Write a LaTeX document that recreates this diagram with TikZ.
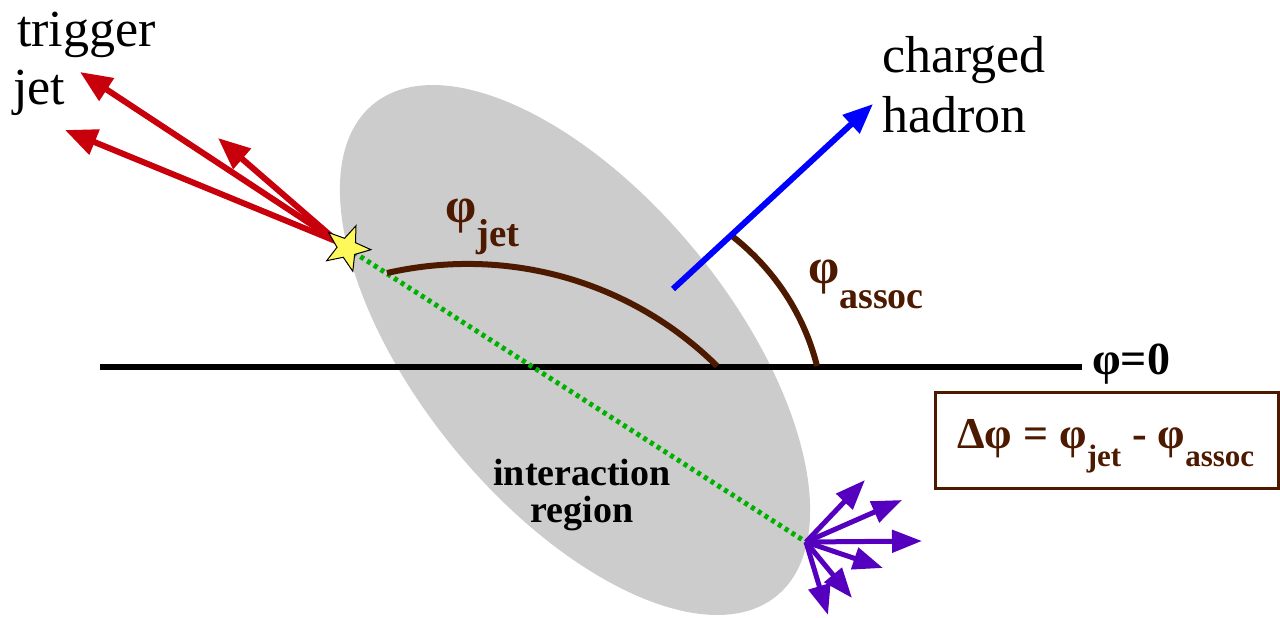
\documentclass[tikz,border=0pt]{standalone}
\usepackage{fontspec}
\newfontfamily\tnr{Liberation Serif}
\usetikzlibrary{arrows.meta,shapes.geometric}
\definecolor{jetred}{RGB}{200,0,12}
\definecolor{phibrown}{RGB}{77,26,0}
\definecolor{regiongray}{RGB}{204,204,204}
\definecolor{dotgreen}{RGB}{0,178,0}
\definecolor{hadblue}{RGB}{0,0,255}
\definecolor{fragpurple}{RGB}{85,0,190}
\definecolor{staryellow}{RGB}{255,248,90}
\begin{document}
\begin{tikzpicture}[x=1pt,y=-1pt,
  jetarrow/.style={draw=jetred, line width=6pt, -{Triangle[length=32pt,width=26pt]}},
  fragarrow/.style={draw=fragpurple, line width=5pt, -{Triangle[length=30pt,width=22pt]}},
  hadarrow/.style={draw=hadblue, line width=6pt, -{Triangle[length=30pt,width=24pt]}},
  anglearc/.style={draw=phibrown, line width=6pt},
  bigtext/.style={font=\tnr\fontsize{52}{56}\selectfont, inner sep=0pt, anchor=base west},
  regiontext/.style={font=\tnr\bfseries\fontsize{38}{40}\selectfont, inner sep=0pt, anchor=base},
  philabel/.style={text=phibrown, inner sep=0pt, anchor=base west},
]
\useasboundingbox (0,0) rectangle (1280,618);
% interaction region
\node[ellipse, fill=regiongray, inner sep=0pt, minimum width=636pt, minimum height=312pt, rotate=-50.6] (region) at (575,350) {};
\node[regiontext] (inter) at (582,485) {interaction};
\node[regiontext] (regtxt) at (582,522) {region};
% phi = 0 line
\coordinate (L0) at (100,367);
\coordinate (L1) at (1082,367);
\draw[line width=6pt] (L0) -- (L1);
\node[inner sep=0pt, anchor=base west, font=\tnr\bfseries\fontsize{46}{48}\selectfont] (phizero) at (1092,374) {φ=0};
% dotted jet axis
\coordinate (vtx) at (347,248);
\coordinate (away) at (806,542);
\draw[draw=dotgreen, line width=5pt, dash pattern=on 4pt off 4pt] (vtx) -- (away);
% angle arcs
\coordinate (ja) at (387,273);
\coordinate (jb) at (717,366);
\draw[anglearc] (ja) .. controls (506,246) and (630,280) .. (jb);
\coordinate (ha0) at (673,289);
\coordinate (ha1) at (873,104);
\coordinate (aa) at (732,236);
\coordinate (ab) at (817,366);
\draw[anglearc] (aa) .. controls (774,269) and (804,314) .. (ab);
% charged hadron
\draw[hadarrow] (ha0) -- (ha1);
% trigger jet arrows
\coordinate (tj0) at (338,242);
\coordinate (tj1) at (80,72);
\coordinate (tj2) at (65,130);
\coordinate (tj3) at (218,138);
\draw[jetarrow] (tj0) -- (tj1);
\draw[jetarrow] (tj0) -- (tj2);
\draw[jetarrow] (tj0) -- (tj3);
\node[star, star points=5, star point ratio=2.4, minimum size=48pt, inner sep=0pt, fill=staryellow, draw=black, line width=1pt, rotate=-22] (star) at (vtx) {};
% away-side fragments
\coordinate (f1) at (865,480);
\coordinate (f2) at (902,500);
\coordinate (f3) at (922,541);
\coordinate (f4) at (883,568);
\coordinate (f5) at (852,598);
\coordinate (f6) at (828,615);
\foreach \f in {f1,f2,f3,f4,f5,f6} \draw[fragarrow] (away) -- (\f);
% texts
\node[bigtext] (trig) at (17,47) {trigger};
\node[bigtext] (jet) at (13,104) {jet};
\node[bigtext] (charged) at (882,73) {charged};
\node[bigtext] (hadron) at (882,132) {hadron};
\node[philabel, font=\tnr\bfseries\fontsize{50}{52}\selectfont] (phijet) at (445,222) {φ\raisebox{-24pt}{\fontsize{39}{39}\selectfont jet}};
\node[philabel, font=\tnr\bfseries\fontsize{50}{52}\selectfont] (phiassoc) at (808,283) {φ\raisebox{-25pt}{\fontsize{38}{38}\selectfont assoc}};
% formula box
\node[draw=phibrown, line width=3pt, minimum width=343pt, minimum height=96pt, inner sep=0pt] (deltabox) at (1106.5,440) {};
\node[philabel, font=\tnr\bfseries\fontsize{44}{46}\selectfont] (formula) at (957,448) {Δφ = φ\raisebox{-18pt}{\fontsize{31}{31}\selectfont jet} - φ\raisebox{-18pt}{\fontsize{31}{31}\selectfont assoc}};
\end{tikzpicture}
\end{document}
